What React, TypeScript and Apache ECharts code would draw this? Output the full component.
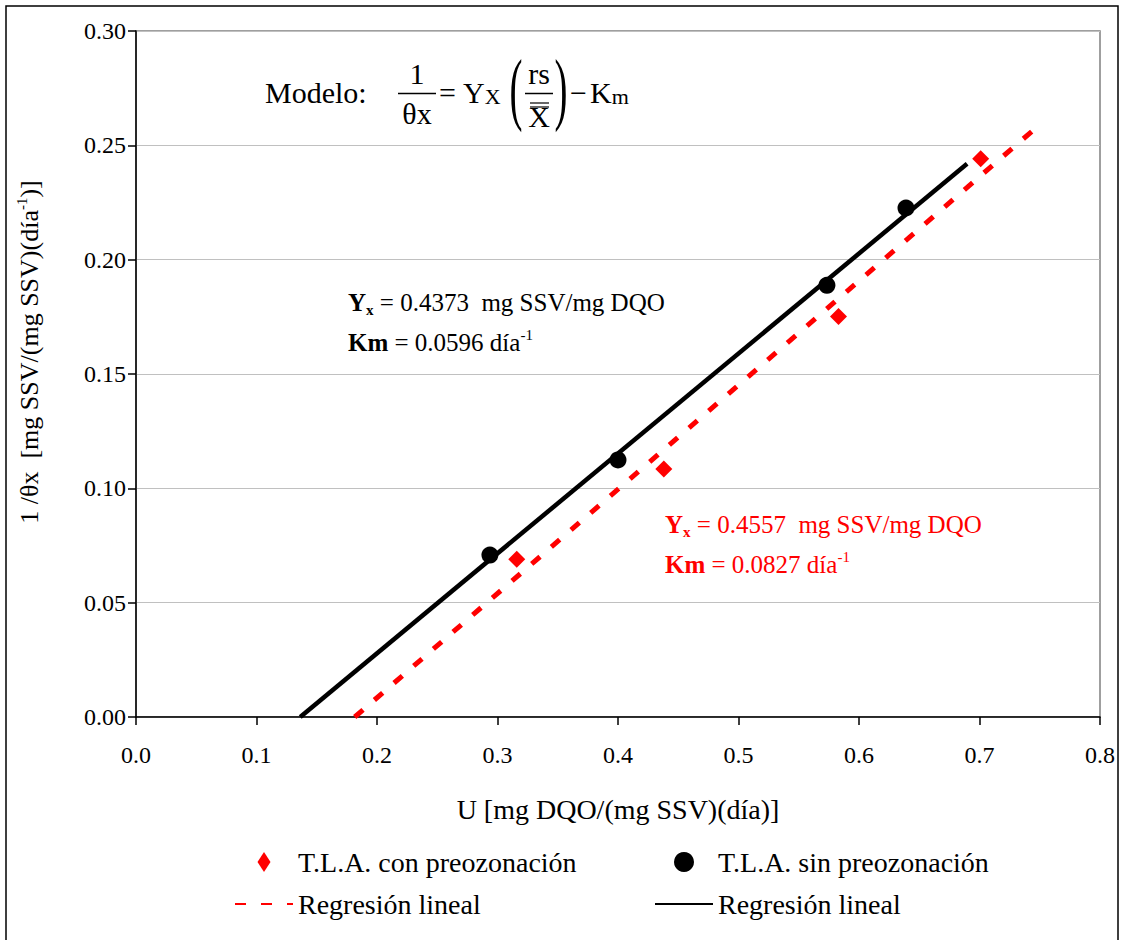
import React, { useEffect, useRef } from 'react';
import * as echarts from 'echarts';

// ---- data ----
const conName = 'T.L.A. con preozonación';
const sinName = 'T.L.A. sin preozonación';
const conFitName = 'Regresión lineal (con)';
const sinFitName = 'Regresión lineal (sin)';

const conX = [0.316, 0.438, 0.583, 0.701];
const conY = [0.069, 0.1085, 0.1752, 0.2441];
const sinX = [0.2937, 0.4, 0.5734, 0.639];
const sinY = [0.0708, 0.1124, 0.1888, 0.2226];

const conFitX = [0.1815, 0.7474];
const conFitY = [0, 0.2579];
const sinFitX = [0.1363, 0.6897];
const sinFitY = [0, 0.2419];

const xTicks = { min: 0, max: 0.8, step: 0.1 };
const yTicks = { min: 0, max: 0.3, step: 0.05 };

const xTitle = 'U [mg DQO/(mg SSV)(día)]';
const sinYx = '0.4373';
const sinKm = '0.0596';
const conYx = '0.4557';
const conKm = '0.0827';

const FONT = "'Liberation Serif', 'Times New Roman', serif";
const RED = '#ff0000';

const zip = (xs: number[], ys: number[]) => xs.map((x, i) => [x, ys[i]]);

function annotation(x: number, y: number, color: string, yx: string, km: string) {
  const rich = {
    b: { fontFamily: FONT, fontSize: 25, fontWeight: 'bold', fill: color, color, lineHeight: 30 },
    bs: { fontFamily: FONT, fontSize: 15, fontWeight: 'bold', fill: color, color, lineHeight: 12, verticalAlign: 'bottom' },
    n: { fontFamily: FONT, fontSize: 25, fill: color, color, lineHeight: 30 },
    sup: { fontFamily: FONT, fontSize: 15, fill: color, color, lineHeight: 12, verticalAlign: 'top' },
  };
  return [
    {
      type: 'text', x, y, silent: true,
      style: {
        text: `{b|Y}{bs|x}{n| = ${yx}\u00a0\u00a0mg SSV/mg DQO}`,
        rich, fill: color, align: 'left', verticalAlign: 'middle',
      },
    },
    {
      type: 'text', x, y: y + 40, silent: true,
      style: {
        text: `{b|Km}{n| = ${km} día}{sup|-1}`,
        rich, fill: color, align: 'left', verticalAlign: 'middle',
      },
    },
  ];
}

function formula() {
  const t = (text: string, x: number, y: number, size: number, align = 'left', extra: any = {}) => ({
    type: 'text', x, y, silent: true, ...extra,
    style: { text, fontFamily: FONT, fontSize: size, fill: '#000', align, verticalAlign: 'middle' },
  });
  const ln = (x1: number, y1: number, x2: number, y2: number, w = 1.5) => ({
    type: 'line', silent: true, shape: { x1, y1, x2, y2 }, style: { stroke: '#000', lineWidth: w },
  });
  const sub = (big: string, small: string, x: number) => ({
    type: 'text', x, y: 92, silent: true,
    style: {
      text: `{a|${big}}{b|${small}}`, align: 'left', verticalAlign: 'middle',
      rich: {
        a: { fontFamily: FONT, fontSize: 30, fill: '#000', lineHeight: 30 },
        b: { fontFamily: FONT, fontSize: 22, fill: '#000', lineHeight: 22, verticalAlign: 'bottom' },
      },
    },
  });
  return [
    t('Modelo:', 265, 92, 30),
    t('1', 417, 73, 30, 'center'),
    ln(398, 93.5, 436, 93.5),
    t('θx', 417, 113, 30, 'center'),
    t('=', 439, 92, 30),
    sub('Y', 'X', 463),
    t('(', 516, 88, 30, 'center', { scaleX: 1.3, scaleY: 2.7 }),
    t('rs', 539, 73, 30, 'center'),
    ln(525, 93.5, 553, 93.5),
    ln(530, 103, 549, 103, 1.2),
    ln(530, 107, 549, 107, 1.2),
    t('X', 539, 116, 30, 'center'),
    t(')', 561, 88, 30, 'center', { scaleX: 1.3, scaleY: 2.7 }),
    t('−', 570, 92, 30),
    sub('K', 'm', 590),
  ];
}

export default function App() {
  const ref = useRef<HTMLDivElement>(null);

  useEffect(() => {
    if (!ref.current) return;
    const chart = echarts.init(ref.current, undefined, { renderer: 'svg' });
    const legendFormatter = (n: string) => n.replace(/ \((con|sin)\)$/, '');
    const legendCommon = {
      orient: 'vertical',
      itemWidth: 58,
      itemHeight: 20,
      itemGap: 14,
      formatter: legendFormatter,
      textStyle: { fontFamily: FONT, fontSize: 28, color: '#000' },
      selectedMode: false,
    };
    const hiddenSymbol = { opacity: 0 };
    const option: any = {
      animation: false,
      backgroundColor: '#ffffff',
      textStyle: { fontFamily: FONT },
      grid: {
        left: 136, right: 21, top: 31, bottom: 223,
        show: true, borderColor: '#808080', borderWidth: 1.5,
      },
      xAxis: {
        type: 'value',
        min: xTicks.min, max: xTicks.max, interval: xTicks.step,
        name: xTitle,
        nameLocation: 'middle',
        nameGap: 78,
        nameTextStyle: { fontFamily: FONT, fontSize: 28, color: '#000' },
        axisLine: { onZero: false, lineStyle: { color: '#000', width: 1.5 } },
        axisTick: { show: true, inside: false, length: 8, lineStyle: { color: '#000', width: 1.5 } },
        axisLabel: {
          fontFamily: FONT, fontSize: 24, color: '#000', margin: 26,
          formatter: (v: number) => v.toFixed(1),
        },
        splitLine: { show: false },
      },
      yAxis: {
        type: 'value',
        min: yTicks.min, max: yTicks.max, interval: yTicks.step,
        name: '{n|1 /θx\u00a0\u00a0[mg SSV/(mg SSV)(día}{s|-1}{n|)]}',
        nameLocation: 'middle',
        nameRotate: 90,
        nameGap: 92,
        nameTextStyle: {
          fontFamily: FONT, fontSize: 26, color: '#000',
          padding: [0, 0, 0, 44],
          rich: {
            n: { fontFamily: FONT, fontSize: 26, color: '#000', lineHeight: 30 },
            s: { fontFamily: FONT, fontSize: 15, color: '#000', lineHeight: 12, verticalAlign: 'top' },
          },
        },
        axisLine: { show: true, lineStyle: { color: '#000', width: 1.5 } },
        axisTick: { show: true, inside: false, length: 8, lineStyle: { color: '#000', width: 1.5 } },
        axisLabel: {
          fontFamily: FONT, fontSize: 24, color: '#000', margin: 10,
          formatter: (v: number) => v.toFixed(2),
        },
        splitLine: { show: true, lineStyle: { color: '#c0c0c0', width: 1 } },
      },
      legend: [
        {
          ...legendCommon, left: 229, top: 843,
          data: [
            { name: conName, icon: 'path://M13 0L26 20L13 40L0 20Z' },
            { name: conFitName, itemStyle: hiddenSymbol },
          ],
        },
        {
          ...legendCommon, left: 649, top: 843,
          data: [
            { name: sinName, icon: 'circle' },
            { name: sinFitName, itemStyle: hiddenSymbol },
          ],
        },
      ],
      series: [
        {
          name: conFitName, type: 'line', data: zip(conFitX, conFitY),
          symbol: 'none', z: 2,
          itemStyle: { color: RED },
          lineStyle: { color: RED, width: 5, type: [11, 15], cap: 'butt' },
        },
        {
          name: sinFitName, type: 'line', data: zip(sinFitX, sinFitY),
          symbol: 'none', z: 2,
          itemStyle: { color: '#000' },
          lineStyle: { color: '#000', width: 4.5, type: 'solid' },
        },
        {
          name: conName, type: 'scatter', data: zip(conX, conY),
          symbol: 'diamond', symbolSize: 17, z: 3,
          itemStyle: { color: RED, opacity: 1 },
        },
        {
          name: sinName, type: 'scatter', data: zip(sinX, sinY),
          symbol: 'circle', symbolSize: 17, z: 3,
          itemStyle: { color: '#000', opacity: 1 },
        },
      ],
      graphic: [
        {
          type: 'rect', silent: true, z: 100,
          shape: { x: 6, y: 6, width: 1112, height: 960 },
          style: { fill: 'none', stroke: '#000', lineWidth: 1.5 },
        },
        ...formula(),
        ...annotation(348, 302, '#000', sinYx, sinKm),
        ...annotation(665, 524, RED, conYx, conKm),
      ],
    };
    chart.setOption(option);
    return () => chart.dispose();
  }, []);

  return (
    <div
      ref={ref}
      style={{ position: 'absolute', left: 0, top: 0, width: 1121, height: 940, background: '#fff' }}
    />
  );
}
